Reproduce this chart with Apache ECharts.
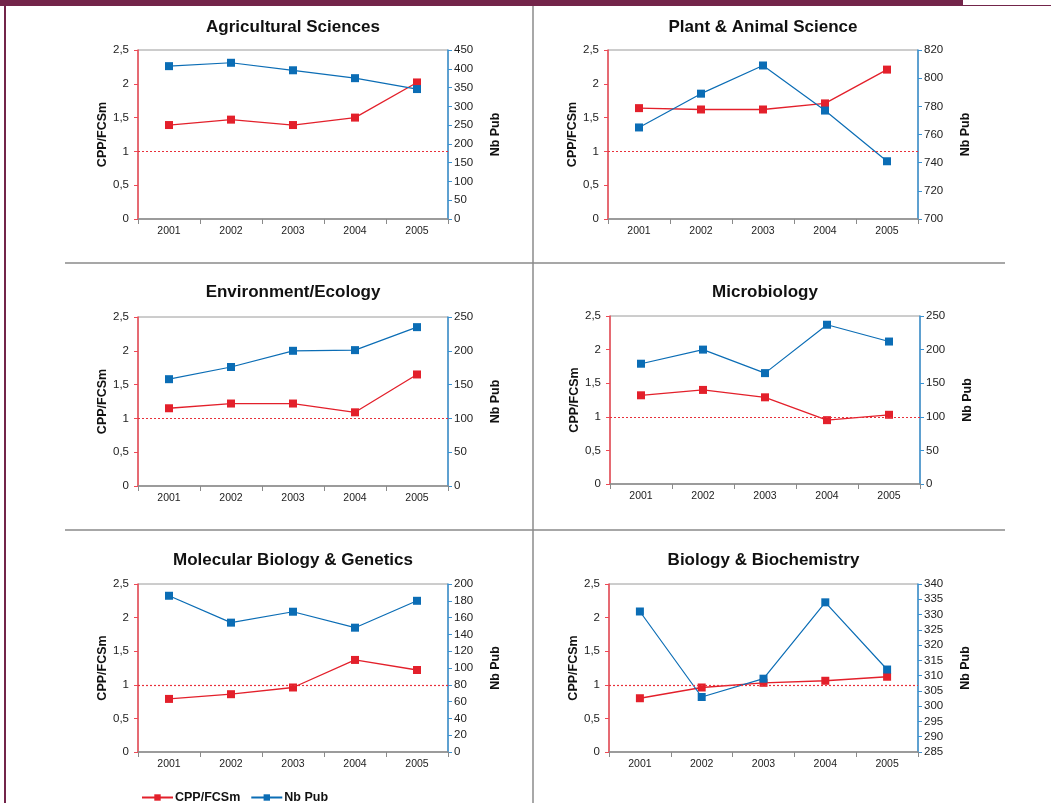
<!DOCTYPE html>
<html>
<head>
<meta charset="utf-8">
<title>CPP/FCSm et Nb Pub 2001-2005</title>
<script src="https://cdn.jsdelivr.net/npm/echarts@6/dist/echarts.min.js"></script>
<style>
  html, body { margin: 0; padding: 0; background: #fff; }
  #chart { width: 1051px; height: 803px; }
</style>
</head>
<body>
<div id="chart"></div>
<script>
// Years on the category axis
const years = ['2001', '2002', '2003', '2004', '2005'];

// Panel titles
const titles = [
  'Agricultural Sciences',
  'Plant & Animal Science',
  'Environment/Ecology',
  'Microbiology',
  'Molecular Biology & Genetics',
  'Biology & Biochemistry'
];

// CPP/FCSm per field (left axis)
const cppAgri  = [1.39, 1.47, 1.39, 1.50, 2.02];
const cppPlant = [1.64, 1.62, 1.62, 1.71, 2.21];
const cppEnv   = [1.15, 1.22, 1.22, 1.09, 1.65];
const cppMicro = [1.32, 1.40, 1.29, 0.95, 1.03];
const cppMol   = [0.79, 0.86, 0.96, 1.37, 1.22];
const cppBio   = [0.80, 0.96, 1.03, 1.06, 1.12];

// Number of publications per field (right axis)
const pubAgri  = [407, 416, 396, 375, 346];
const pubPlant = [765, 789, 809, 777, 741];
const pubEnv   = [158, 176, 200, 201, 235];
const pubMicro = [179, 200, 165, 237, 212];
const pubMol   = [186, 154, 167, 148, 180];
const pubBio   = [331, 303, 309, 334, 312];

// Right axis scales: [min, max, interval]
const pubAxisAgri  = [0, 450, 50];
const pubAxisPlant = [700, 820, 20];
const pubAxisEnv   = [0, 250, 50];
const pubAxisMicro = [0, 250, 50];
const pubAxisMol   = [0, 200, 20];
const pubAxisBio   = [285, 340, 5];

// Left axis scale and reference line
const cppAxis = [0, 2.5, 0.5];
const cppReference = 1;

const cppSets = [cppAgri, cppPlant, cppEnv, cppMicro, cppMol, cppBio];
const pubSets = [pubAgri, pubPlant, pubEnv, pubMicro, pubMol, pubBio];
const pubAxes = [pubAxisAgri, pubAxisPlant, pubAxisEnv, pubAxisMicro, pubAxisMol, pubAxisBio];

const FONT = '"Liberation Sans", Arial, sans-serif';
const RED = '#e3202b';
const BLUE = '#0b6db5';
const RED_AXIS = '#ee4a55';
const BLUE_AXIS = '#3a92d2';
const TEXT = '#222';

// Plot areas of the 2x3 layout
const gridBoxes = [
  { left: 138, top: 50,  width: 310, height: 169 },
  { left: 608, top: 50,  width: 310, height: 169 },
  { left: 138, top: 317, width: 310, height: 169 },
  { left: 610, top: 316, width: 310, height: 168 },
  { left: 138, top: 584, width: 310, height: 168 },
  { left: 609, top: 584, width: 309, height: 168 }
];
const titleTops = [19, 19, 284, 284, 552, 552];

const grid = [], xAxis = [], yAxis = [], series = [], title = [];

gridBoxes.forEach((g, i) => {
  grid.push(Object.assign({ show: true, borderColor: '#9a9a9a', borderWidth: 1, backgroundColor: 'transparent' }, g));

  title.push({
    text: titles[i],
    left: g.left + g.width / 2,
    top: titleTops[i],
    textAlign: 'center',
    padding: 0,
    textStyle: { fontFamily: FONT, fontSize: 17, fontWeight: 'bold', color: '#111' }
  });

  xAxis.push({
    type: 'category',
    gridIndex: i,
    data: years,
    boundaryGap: true,
    axisLine: { lineStyle: { color: '#8a8a8a', width: 1.5 } },
    axisTick: { show: true, length: 5, lineStyle: { color: '#8a8a8a' } },
    axisLabel: { fontFamily: FONT, fontSize: 10.5, color: TEXT, margin: 7 },
    splitLine: { show: false }
  });

  const pa = pubAxes[i];
  yAxis.push({
    type: 'value',
    gridIndex: i,
    position: 'left',
    min: cppAxis[0], max: cppAxis[1], interval: cppAxis[2],
    name: 'CPP/FCSm',
    nameLocation: 'middle',
    nameRotate: 90,
    nameGap: 28,
    nameTextStyle: { fontFamily: FONT, fontSize: 12.5, fontWeight: 'bold', color: '#111' },
    axisLine: { show: true, lineStyle: { color: RED_AXIS, width: 1.5 } },
    axisTick: { show: true, length: 4, lineStyle: { color: RED_AXIS } },
    axisLabel: {
      fontFamily: FONT, fontSize: 11.5, color: TEXT, margin: 9,
      formatter: v => String(v).replace('.', ',')
    },
    splitLine: { show: false }
  });
  yAxis.push({
    type: 'value',
    gridIndex: i,
    position: 'right',
    min: pa[0], max: pa[1], interval: pa[2],
    name: 'Nb Pub',
    nameLocation: 'middle',
    nameRotate: 90,
    nameGap: 41,
    nameTextStyle: { fontFamily: FONT, fontSize: 12.5, fontWeight: 'bold', color: '#111' },
    axisLine: { show: true, lineStyle: { color: BLUE_AXIS, width: 1.5 } },
    axisTick: { show: true, length: 4, lineStyle: { color: BLUE_AXIS } },
    axisLabel: { fontFamily: FONT, fontSize: 11.5, color: TEXT, margin: 6 },
    splitLine: { show: false }
  });

  series.push({
    name: 'CPP/FCSm',
    type: 'line',
    xAxisIndex: i,
    yAxisIndex: i * 2,
    data: cppSets[i],
    symbol: 'rect',
    symbolSize: 8,
    itemStyle: { color: RED },
    lineStyle: { color: RED, width: 1.3 },
    z: 3,
    markLine: {
      silent: true,
      symbol: ['none', 'none'],
      label: { show: false },
      lineStyle: { color: '#e8303a', type: [2, 2], width: 1.2, opacity: 1 },
      emphasis: { disabled: true },
      data: [{ yAxis: cppReference }]
    }
  });
  series.push({
    name: 'Nb Pub',
    type: 'line',
    xAxisIndex: i,
    yAxisIndex: i * 2 + 1,
    data: pubSets[i],
    symbol: 'rect',
    symbolSize: 8,
    itemStyle: { color: BLUE },
    lineStyle: { color: BLUE, width: 1.2 },
    z: 4
  });
});

const MAROON = '#73254a';
const chart = echarts.init(document.getElementById('chart'), null, { renderer: 'canvas' });
chart.setOption({
  animation: false,
  backgroundColor: '#fff',
  title: title,
  grid: grid,
  xAxis: xAxis,
  yAxis: yAxis,
  series: series,
  legend: {
    data: ['CPP/FCSm', 'Nb Pub'],
    left: 141,
    top: 791,
    padding: 0,
    itemWidth: 31,
    itemHeight: 8,
    itemGap: 10,
    textStyle: { fontFamily: FONT, fontSize: 12.5, fontWeight: 'bold', color: '#111', padding: [0, 0, 0, -3] }
  },
  graphic: [
    // page frame
    { type: 'rect', shape: { x: 0, y: 0, width: 963, height: 6 }, style: { fill: MAROON }, silent: true },
    { type: 'line', shape: { x1: 963, y1: 5.5, x2: 1051, y2: 5.5 }, style: { stroke: MAROON, lineWidth: 1 }, silent: true },
    { type: 'line', shape: { x1: 5, y1: 0, x2: 5, y2: 803 }, style: { stroke: MAROON, lineWidth: 2 }, silent: true },
    // panel separators
    { type: 'line', shape: { x1: 533, y1: 6, x2: 533, y2: 803 }, style: { stroke: '#a8a8a8', lineWidth: 2 }, silent: true },
    { type: 'line', shape: { x1: 65, y1: 263, x2: 1005, y2: 263 }, style: { stroke: '#8a8a8a', lineWidth: 1.5 }, silent: true },
    { type: 'line', shape: { x1: 65, y1: 530, x2: 1005, y2: 530 }, style: { stroke: '#8a8a8a', lineWidth: 1.5 }, silent: true }
  ]
});
</script>
</body>
</html>
